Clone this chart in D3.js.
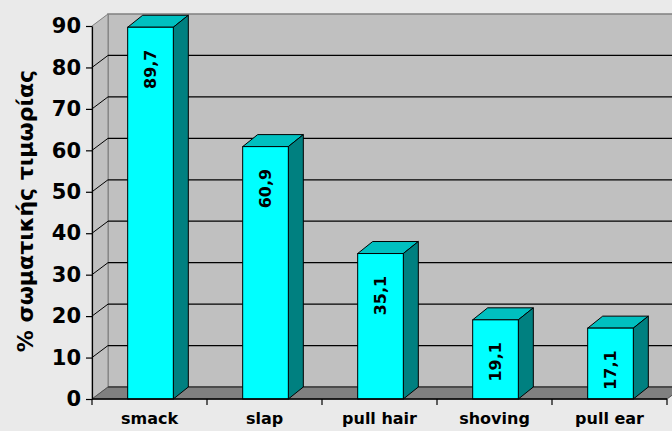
<!DOCTYPE html>
<html>
<head>
<meta charset="utf-8">
<script src="https://cdn.jsdelivr.net/npm/d3@7"></script>
<style>
  html, body { margin: 0; padding: 0; background: #EAEAEA; }
  svg { display: block; }
  text { font-family: "DejaVu Sans", Verdana, sans-serif; font-weight: bold; fill: #000; }
</style>
</head>
<body>
<svg id="chart" width="672" height="431"></svg>
<script>
const categories = ["smack", "slap", "pull hair", "shoving", "pull ear"];
const values = [89.7, 60.9, 35.1, 19.1, 17.1];
const valueLabels = ["89,7", "60,9", "35,1", "19,1", "17,1"];
const yTicks = [0, 10, 20, 30, 40, 50, 60, 70, 80, 90];
const yTitle = "% σωματικής τιμωρίας";

const W = 672, H = 431;
const svg = d3.select("#chart");
svg.append("rect").attr("width", W).attr("height", H).attr("fill", "#EAEAEA");

const x0 = 92, x1 = 667;
const y = d3.scaleLinear().domain([0, 90]).range([399, 26]);
const x = d3.scaleBand().domain(categories).range([x0, x1]).padding(0);
const dx = 16, dy = 12;      // wall depth
const bdx = 15, bdy = 12;    // bar depth
const yBase = y(0), yMax = y(90);

const poly = pts => pts.map(p => p.join(",")).join(" ");

// back wall
svg.append("polygon")
  .attr("points", poly([[x0 + dx, yMax - dy], [x1 + dx + 20, yMax - dy], [x1 + dx + 20, yBase - dy], [x0 + dx, yBase - dy]]))
  .attr("fill", "#C0C0C0").attr("stroke", "#808080").attr("stroke-width", 1.5);
// left wall
svg.append("polygon")
  .attr("points", poly([[x0, yBase], [x0, yMax], [x0 + dx, yMax - dy], [x0 + dx, yBase - dy]]))
  .attr("fill", "#C0C0C0").attr("stroke", "#808080").attr("stroke-width", 1);
// floor
svg.append("polygon")
  .attr("points", poly([[x0, yBase], [x0 + dx, yBase - dy], [x1 + dx, yBase - dy], [x1, yBase]]))
  .attr("fill", "#808080").attr("stroke", "#505050").attr("stroke-width", 1);

// gridlines
const grid = yTicks.filter(t => t > 0 && t < 90);
svg.append("g").selectAll("line.gb").data(grid).join("line")
  .attr("x1", x0 + dx).attr("x2", x1 + dx + 20)
  .attr("y1", d => y(d) - dy).attr("y2", d => y(d) - dy)
  .attr("stroke", "#000").attr("stroke-width", 1.2);
svg.append("g").selectAll("line.gl").data(grid).join("line")
  .attr("x1", x0).attr("x2", x0 + dx)
  .attr("y1", d => y(d)).attr("y2", d => y(d) - dy)
  .attr("stroke", "#000").attr("stroke-width", 1);
// floor back edge
svg.append("line").attr("x1", x0 + dx).attr("x2", x1 + dx)
  .attr("y1", yBase - dy).attr("y2", yBase - dy)
  .attr("stroke", "#404040").attr("stroke-width", 1.5);

// bars
const bw = x.bandwidth() * 0.397;
const bars = svg.append("g");
categories.forEach((c, i) => {
  const xl = x(c) + (x.bandwidth() - bw) / 2 + 1;
  const xr = xl + bw;
  const yt = y(values[i]);
  bars.append("polygon")
    .attr("points", poly([[xl, yt], [xl + bdx, yt - bdy], [xr + bdx, yt - bdy], [xr, yt]]))
    .attr("fill", "#00C0C0").attr("stroke", "#000").attr("stroke-width", 1);
  bars.append("polygon")
    .attr("points", poly([[xr, yt], [xr + bdx, yt - bdy], [xr + bdx, yBase - bdy], [xr, yBase]]))
    .attr("fill", "#008080").attr("stroke", "#000").attr("stroke-width", 1);
  bars.append("rect")
    .attr("x", xl).attr("y", yt).attr("width", bw).attr("height", yBase - yt)
    .attr("fill", "#00FFFF").attr("stroke", "#000").attr("stroke-width", 1);
  bars.append("text")
    .attr("transform", `translate(${(xl + xr) / 2},${yt + 42}) rotate(-90)`)
    .attr("text-anchor", "middle").attr("dominant-baseline", "central")
    .style("font-size", "16px")
    .text(valueLabels[i]);
});

// y axis
const yAxis = d3.axisLeft(y).tickValues(yTicks).tickSize(6).tickSizeOuter(0).tickPadding(5);
const gy = svg.append("g").attr("transform", `translate(${x0},0)`).call(yAxis);
gy.select(".domain").attr("stroke", "#000").attr("stroke-width", 1.2);
gy.selectAll(".tick line").attr("stroke", "#000").attr("stroke-width", 1.2);
gy.selectAll(".tick text").style("font-size", "21px").style("font-family", "DejaVu Sans, sans-serif").style("font-weight", "bold").attr("fill", "#000");

// x axis
const xAxis = d3.axisBottom(x).tickSize(0).tickPadding(14);
const gx = svg.append("g").attr("transform", `translate(0,${yBase})`).call(xAxis);
gx.select(".domain").remove();
gx.selectAll(".tick text").style("font-size", "16px").style("font-family", "DejaVu Sans, sans-serif").style("font-weight", "bold").attr("fill", "#000");
svg.append("line").attr("x1", x0).attr("x2", x1).attr("y1", yBase).attr("y2", yBase)
  .attr("stroke", "#000").attr("stroke-width", 1.5);
const boundaries = categories.map(c => x(c)).concat([x1]);
svg.append("g").selectAll("line").data(boundaries).join("line")
  .attr("x1", d => d).attr("x2", d => d).attr("y1", yBase).attr("y2", yBase + 6)
  .attr("stroke", "#000").attr("stroke-width", 1.2);

// y title
svg.append("text")
  .attr("transform", "translate(25,211) rotate(-90)")
  .attr("text-anchor", "middle").attr("dominant-baseline", "central")
  .style("font-size", "22px")
  .text(yTitle);
</script>
</body>
</html>
